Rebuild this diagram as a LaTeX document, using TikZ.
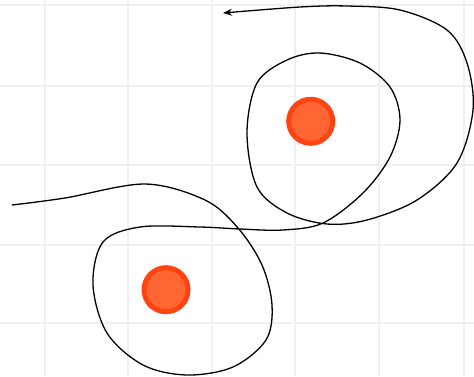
\documentclass[tikz,border=0pt]{standalone}
\usetikzlibrary{arrows.meta}
\definecolor{gridc}{RGB}{240,240,240}
\definecolor{dotfill}{RGB}{255,102,51}
\definecolor{dotline}{RGB}{255,68,17}
\begin{document}
\begin{tikzpicture}[x=1pt,y=-1pt,
  gridline/.style={gridc,line width=1.8pt},
  dot/.style={circle,fill=dotfill,draw=dotline,line width=5pt,minimum size=44pt,inner sep=0pt},
  path/.style={black,line width=1.3pt,line join=round}]
\useasboundingbox (0,0) rectangle (474,376);
\fill[white] (0,0) rectangle (474,376);
\foreach \x in {45,128,212,295,379,464} \draw[gridline] (\x,0) -- (\x,376);
\foreach \y in {5,86,165,245,323} \draw[gridline] (0,\y) -- (474,\y);
\node[dot] (a) at (310.7,121.3) {};
\node[dot] (b) at (166,289.7) {};
\draw[path,-{Stealth[length=9pt,width=7pt,inset=3pt]}] plot[smooth,tension=0.55] coordinates {
(12,205) (65,198) (145,184) (205,200) (238,228) (262,265) (272,305) (266,340) (233,367) (187,375) (143,365) (107,333) (93,285) (103,242) (140,227) (200,227) (240,229) (283,230) (323,223) (363,193) (390,157) (400,120) (390,87) (360,63) (320,53) (287,60) (257,83) (247,133) (257,187) (287,213) (327,224) (367,220) (417,200) (457,163) (473,110) (467,63) (447,30) (400,10) (347,6) (300,7) (223,13)};
\end{tikzpicture}
\end{document}
